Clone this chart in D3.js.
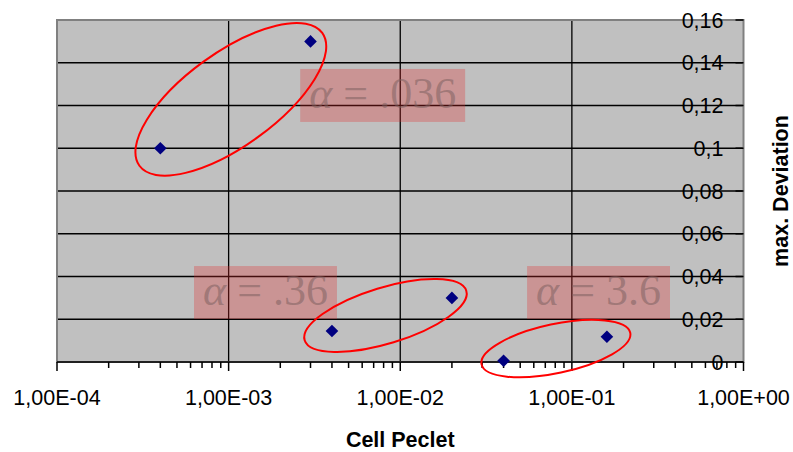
<!DOCTYPE html>
<html>
<head>
<meta charset="utf-8">
<script src="https://cdn.jsdelivr.net/npm/d3@7"></script>
<style>
  html, body { margin: 0; padding: 0; background: #ffffff; }
  svg { display: block; }
</style>
</head>
<body>
<svg id="chart" width="793" height="452"></svg>
<script>
// Maximum deviation against cell Peclet number, grouped by alpha
const pecletValues    = [4e-4, 3e-3, 4e-3, 2e-2, 4e-2, 1.6e-1];
const deviationValues = [0.1, 0.15, 0.0145, 0.03, 0.0006, 0.0118];

const xTickValues = [1e-4, 1e-3, 1e-2, 1e-1, 1];
const xTickLabels = ["1,00E-04", "1,00E-03", "1,00E-02", "1,00E-01", "1,00E+00"];
const yTickValues = [0, 0.02, 0.04, 0.06, 0.08, 0.1, 0.12, 0.14, 0.16];
const yTickLabels = ["0", "0,02", "0,04", "0,06", "0,08", "0,1", "0,12", "0,14", "0,16"];

// alpha groups: label text, label anchor and ellipse centre in data units
const groupAlpha      = [".036", ".36", "3.6"];
const groupLabelPe    = [7.9e-3, 1.64e-3, 0.143];
const groupLabelDev   = [0.1247, 0.0325, 0.0325];
const groupEllipsePe  = [1.03e-3, 8.2e-3, 0.0807];
const groupEllipseDev = [0.1229, 0.02175, 0.0063];

// ellipse shapes (pixels / degrees)
const ellipseShape = [
  { rx: 113, ry: 46.5, rot: -36 },
  { rx: 84.5, ry: 28, rot: -17 },
  { rx: 76, ry: 24.5, rot: -12 }
];

const W = 793, H = 452;
const plot = { left: 57, right: 743.5, top: 20, bottom: 362 };

const svg = d3.select("#chart");

const x = d3.scaleLog().domain([1e-4, 1]).range([plot.left, plot.right]);
const y = d3.scaleLinear().domain([0, 0.16]).range([plot.bottom, plot.top]);

const sans = "'Liberation Sans', Arial, Helvetica, sans-serif";
const serif = "'Liberation Serif', 'Times New Roman', serif";

// plot area background
svg.append("rect")
  .attr("x", plot.left).attr("y", plot.top)
  .attr("width", plot.right - plot.left).attr("height", plot.bottom - plot.top)
  .attr("fill", "#c0c0c0");

// gridlines
const grid = svg.append("g").attr("stroke", "#000").attr("stroke-width", 1.3);
grid.selectAll("line.h")
  .data(yTickValues.filter(v => v > 0 && v < 0.16))
  .join("line").attr("class", "h")
  .attr("x1", plot.left).attr("x2", plot.right)
  .attr("y1", d => y(d)).attr("y2", d => y(d));
grid.selectAll("line.v")
  .data(xTickValues.filter(v => v > 1e-4 && v < 1))
  .join("line").attr("class", "v")
  .attr("y1", plot.top).attr("y2", plot.bottom)
  .attr("x1", d => x(d)).attr("x2", d => x(d));

// alpha group labels
const labels = svg.append("g");
groupAlpha.forEach((val, i) => {
  const g = labels.append("g");
  const cx = x(groupLabelPe[i]), cy = y(groupLabelDev[i]);
  const t = g.append("text")
    .attr("x", cx).attr("y", cy + 12.5)
    .attr("text-anchor", "middle")
    .attr("font-family", serif)
    .attr("font-size", 44)
    .attr("fill", "#7d6060")
    .attr("fill-opacity", 0.55);
  t.append("tspan").attr("font-style", "italic").text("α");
  t.append("tspan").text(" = " + val);
  const bb = t.node().getBBox();
  g.insert("rect", "text")
    .attr("x", bb.x - 9).attr("width", bb.width + 18)
    .attr("y", cy - 26.5).attr("height", 53)
    .attr("fill", "rgb(225,45,45)")
    .attr("fill-opacity", 0.3);
});

// plot border
svg.append("rect")
  .attr("x", plot.left).attr("y", plot.top)
  .attr("width", plot.right - plot.left).attr("height", plot.bottom - plot.top)
  .attr("fill", "none").attr("stroke", "#808080").attr("stroke-width", 2);

// x axis
const minorTicks = [];
xTickValues.slice(0, -1).forEach(d => { for (let k = 2; k <= 9; k++) minorTicks.push(d * k); });
const xAxis = svg.append("g");
xAxis.append("line")
  .attr("x1", plot.left).attr("x2", plot.right)
  .attr("y1", plot.bottom).attr("y2", plot.bottom)
  .attr("stroke", "#000").attr("stroke-width", 1.5);
xAxis.selectAll("line.major").data(xTickValues).join("line").attr("class", "major")
  .attr("x1", d => x(d)).attr("x2", d => x(d))
  .attr("y1", plot.bottom).attr("y2", plot.bottom + 9)
  .attr("stroke", "#000").attr("stroke-width", 1.5);
xAxis.selectAll("line.minor").data(minorTicks).join("line").attr("class", "minor")
  .attr("x1", d => x(d)).attr("x2", d => x(d))
  .attr("y1", plot.bottom).attr("y2", plot.bottom + 6)
  .attr("stroke", "#000").attr("stroke-width", 1.5);
xAxis.selectAll("text").data(xTickValues).join("text")
  .attr("x", d => x(d)).attr("y", 405)
  .attr("text-anchor", "middle")
  .attr("font-family", sans).attr("font-size", 21.5).attr("fill", "#000")
  .text((d, i) => xTickLabels[i]);

// y axis on the right
const yAxis = svg.append("g");
yAxis.selectAll("line").data(yTickValues).join("line")
  .attr("x1", plot.right - 8).attr("x2", plot.right)
  .attr("y1", d => y(d)).attr("y2", d => y(d))
  .attr("stroke", "#000").attr("stroke-width", 1.5);
yAxis.selectAll("text").data(yTickValues).join("text")
  .attr("x", plot.right - 20).attr("y", d => y(d))
  .attr("dy", "0.36em")
  .attr("text-anchor", "end")
  .attr("font-family", sans).attr("font-size", 21.5).attr("fill", "#000")
  .text((d, i) => yTickLabels[i]);

// axis titles
svg.append("text")
  .attr("x", (plot.left + plot.right) / 2).attr("y", 447)
  .attr("text-anchor", "middle")
  .attr("font-family", sans).attr("font-size", 21.5).attr("font-weight", "bold")
  .text("Cell Peclet");
svg.append("text")
  .attr("transform", `translate(788,${(plot.top + plot.bottom) / 2}) rotate(-90)`)
  .attr("text-anchor", "middle")
  .attr("font-family", sans).attr("font-size", 21.5).attr("font-weight", "bold")
  .text("max. Deviation");

// group ellipses
svg.append("g").selectAll("ellipse").data(ellipseShape).join("ellipse")
  .attr("transform", (d, i) => `translate(${x(groupEllipsePe[i])},${y(groupEllipseDev[i])}) rotate(${d.rot})`)
  .attr("rx", d => d.rx).attr("ry", d => d.ry)
  .attr("fill", "none").attr("stroke", "#ff0000").attr("stroke-width", 2);

// data points
const diamond = d3.symbol().type(d3.symbolSquare).size(80);
svg.append("g").selectAll("path").data(pecletValues).join("path")
  .attr("transform", (d, i) => `translate(${x(d)},${y(deviationValues[i])}) rotate(45)`)
  .attr("d", diamond)
  .attr("fill", "#000080");
</script>
</body>
</html>
